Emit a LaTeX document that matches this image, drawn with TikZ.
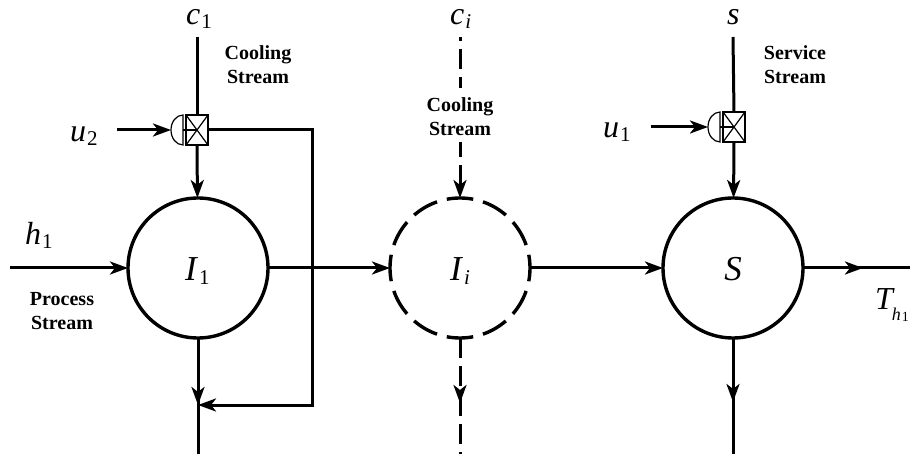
\documentclass[tikz,border=0pt]{standalone}
\usepackage{fontspec}
\setmainfont{Liberation Serif}
\usepackage{tikz}
\usetikzlibrary{arrows.meta,automata,positioning}
\usetikzlibrary{decorations.markings}

\newcommand{\subsym}[2]{\textit{#1}\kern1pt\raisebox{-4pt}{\fontsize{21}{21}\selectfont #2}}

\tikzset{
  stream/.style={line width=3pt},
  dashstream/.style={stream,dash pattern=on 20pt off 8pt},
  valvebox/.style={draw,line width=1.2pt,rectangle,minimum width=22pt,minimum height=30pt,inner sep=0pt,outer sep=0pt,
    path picture={\draw[line width=1.2pt] (path picture bounding box.north west) -- (path picture bounding box.south east)
      (path picture bounding box.north east) -- (path picture bounding box.south west);}},
  actbox/.style={rectangle,minimum width=12pt,minimum height=30pt,inner sep=0pt,outer sep=0pt},
  tag/.style={font=\fontsize{32}{36}\selectfont,inner sep=0pt,anchor=base west},
  unitlabel/.style={font=\fontsize{35}{40}\selectfont,inner sep=0pt,anchor=base west},
  streamlabel/.style={font=\fontsize{20}{24}\selectfont\bfseries,align=center,inner sep=0pt}
}

\begin{document}
\begin{tikzpicture}[x=1pt,y=-1pt, auto, node distance=262pt,
                    every state/.style={draw=black,line width=3.4pt,minimum size=140pt,inner sep=0pt,outer sep=0pt},
                    >={Stealth[inset=5pt,length=18pt,width=13pt]}]
\useasboundingbox (0,0) rectangle (910,454);

% units
\node[state] (i1) at (198,268) {};
\node[state,right of=i1,dash pattern=on 26.6pt off 10.05pt,dash phase=13.3pt] (ii) {};
\node[state,right of=ii,xshift=11pt] (s) {};
\node[unitlabel] (li1) at (185,281) {\subsym{I}{1}};
\node[unitlabel] (lii) at (450,280) {\subsym{I}{\textit{i}}};
\node[unitlabel,anchor=base] (ls) at (733,280) {\textit{S}};

% valves
\node[valvebox] (v1) at (197,130) {};
\node[valvebox] (v2) at (734,127) {};
\node[actbox,left=3pt of v1] (a1) {};
\node[actbox,left=3pt of v2] (a2) {};
\foreach \n in {1,2}{
  \draw[line width=1.2pt] (a\n.north east) arc[start angle=90,end angle=270,x radius=12pt,y radius=15pt] -- cycle;
  \draw[line width=1.2pt] (a\n.east) -- (v\n.center);
}

% labels
\node[tag] (c1) at (186,25) {\subsym{c}{1}};
\node[tag] (ci) at (450,25) {\subsym{c}{\textit{i}}};
\node[tag] (s0) at (727,25) {\textit{s}};
\node[tag] (u2) at (70,142) {\subsym{u}{2}};
\node[tag] (u1) at (603,138) {\subsym{u}{1}};
\node[tag] (h1) at (25,245) {\subsym{h}{1}};
\node[tag] (th) at (875,309) {\textit{T}\kern-3pt\raisebox{-11pt}{\fontsize{18}{18}\selectfont\textit{h}\kern1pt\raisebox{-1pt}{\fontsize{14}{14}\selectfont 1}}};
\node[streamlabel] (cool1) at (258,65) {Cooling\\Stream};
\node[streamlabel] (cooli) at (460,117) {Cooling\\Stream};
\node[streamlabel] (serv) at (795,65) {Service\\Stream};
\node[streamlabel] (proc) at (62,311) {Process\\Stream};

% free ends
\coordinate (c1top) at (197,37);
\coordinate (citop) at (460,37);
\coordinate (s0top) at (733,37);
\coordinate (u2in) at (117,130);
\coordinate (u1in) at (651,127);
\coordinate (pin) at (10,268);
\coordinate (pout) at (910,268);
\coordinate (fb) at (312,405);
\coordinate (j1) at (198,405);
\coordinate (j1b) at (198,397);
\coordinate (o1) at (198,454);
\coordinate (ji) at (460,403);
\coordinate (jib) at (460,396);
\coordinate (oi) at (460,454);
\coordinate (js) at (733,402);
\coordinate (jsb) at (733,394);
\coordinate (os) at (733,454);
\coordinate (jo) at (863,268);
\coordinate (job) at (855,268);
\coordinate (ci1) at (460,88);
\coordinate (ci2) at (460,142);

\path[stream]
(c1top) edge (v1.north)
(v1.south) edge[->] (i1)
(s0top) edge (v2.north)
(v2.south) edge[->] (s)
(u2in) edge[->] (a1.west)
(u1in) edge[->] (a2.west)
(pin) edge[->] (i1)
(i1) edge[->] (ii)
(ii) edge[->] (s)
(s) edge[->] (jo)
(job) edge (pout)
(i1) edge[->] (j1)
(j1b) edge (o1)
(s) edge[->] (js)
(jsb) edge (os);

\draw[stream,->] (v1.east) -| (fb) -- (j1);

\path[dashstream]
(citop) edge[dash phase=16pt] (ci1)
(ci2) edge[->,dash phase=5pt] (ii)
(ii) edge[->] (ji)
(jib) edge (oi);
\end{tikzpicture}
\end{document}
